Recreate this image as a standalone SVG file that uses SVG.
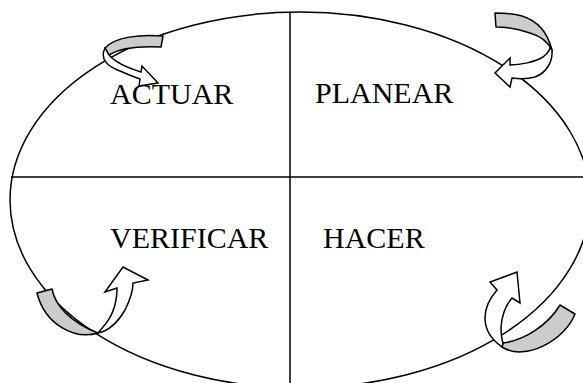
<svg xmlns="http://www.w3.org/2000/svg" width="583" height="383" viewBox="0 0 583 383">
<style>
.ln{fill:none;stroke:#000;stroke-width:1.5}
.gr{fill:#cccccc;stroke:#000;stroke-width:1.5;stroke-linejoin:round}
.wh{fill:#fff;stroke:#000;stroke-width:1.5;stroke-linejoin:miter}
.lb{font-family:"Liberation Serif","Times New Roman",serif;font-size:30px;fill:#000}
</style>
<rect width="583" height="383" fill="#fff"/>
<g id="connectors">
<ellipse class="ln" cx="300" cy="200" rx="290" ry="188"/>
<line class="ln" x1="11" y1="177" x2="583" y2="177"/>
<line class="ln" x1="290" y1="12" x2="290" y2="383"/>
</g>
<g id="actuar">
<text class="lb" x="110" y="104">ACTUAR</text>
<path class="gr" d="M105,48 C115,37 140,34 163,36 L161,47 C140,46 120,48 109,55 Z"/>
<path class="wh" d="M105,48 C100,58 106,66 120,71 C127,74 134,77 140,79 L139,86 L158,83 L142,66 L141,72 C128,68 116,63 109,55 Z"/>
</g>
<g id="planear">
<text class="lb" x="315" y="103">PLANEAR</text>
<path class="gr" d="M495,13 C505,13 515,14 522,16 C535,20 547,30 552,50 C548,42 540,36 530,33 C518,29 505,27 496,27 Z"/>
<path class="wh" d="M552,50 C553,62 546,73 535,77 C528,79 520,79 512,78 L510,87 L495,73 L510,58 L510,65 C520,65 535,62 543,57 C547,54 549,51 550,48 Z"/>
</g>
<g id="verificar">
<text class="lb" x="110" y="248">VERIFICAR</text>
<path class="gr" d="M37,293 L52,289 C55,305 70,322 98,333 C75,340 45,325 37,293 Z"/>
<path class="wh" d="M98,333 C108,331 118,322 125,310 C130,300 133,292 133,283 L148,280 L123,267 L105,292 L117,288 C117,300 114,315 103,327 Z"/>
</g>
<g id="hacer">
<text class="lb" x="323" y="248">HACER</text>
<path class="gr" d="M560,305 L575,314 C565,340 525,362 502,347 L503,343 C525,340 548,325 560,305 Z"/>
<path class="wh" d="M502,347 C492,340 485,330 485,318 C485,308 490,298 497,290 L490,282 L517,272 L520,303 L512,298 C506,305 502,315 501,327 C501,335 502,340 503,343 Z"/>
</g>
</svg>
